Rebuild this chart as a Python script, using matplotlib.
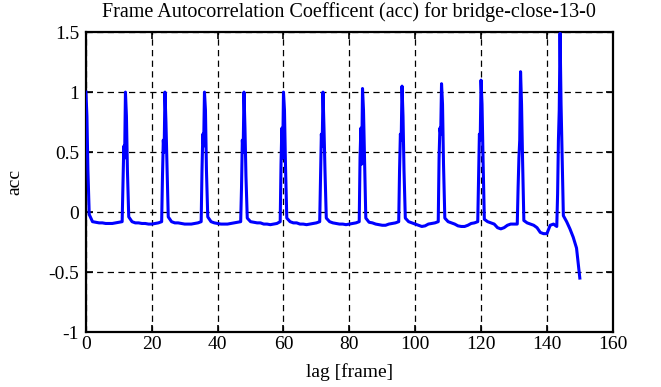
import numpy as np
from matplotlib import pyplot as plt

# acc at every whole lag 0..150
acc_frame = [
    1.0, -0.02, -0.08, -0.085, -0.09, -0.09, -0.095, -0.095, -0.095, -0.09, -0.085, -0.08,
    1.0, -0.04, -0.08, -0.09, -0.09, -0.095, -0.095, -0.1, -0.1, -0.095, -0.09, -0.08,
    1.0, -0.04, -0.08, -0.09, -0.09, -0.095, -0.1, -0.1, -0.1, -0.095, -0.09, -0.08,
    1.0, -0.04, -0.08, -0.09, -0.095, -0.1, -0.1, -0.1, -0.095, -0.09, -0.085, -0.08,
    1.0, -0.05, -0.08, -0.085, -0.09, -0.09, -0.1, -0.1, -0.105, -0.1, -0.095, -0.08,
    1.0, -0.05, -0.08, -0.09, -0.09, -0.1, -0.1, -0.105, -0.1, -0.095, -0.09, -0.08,
    1.0, -0.05, -0.08, -0.09, -0.095, -0.1, -0.1, -0.105, -0.1, -0.095, -0.09, -0.08,
    1.03, -0.05, -0.085, -0.09, -0.1, -0.105, -0.11, -0.11, -0.1, -0.095, -0.09, -0.08,
    1.05, -0.05, -0.08, -0.09, -0.1, -0.11, -0.12, -0.115, -0.1, -0.095, -0.09, -0.08,
    1.07, -0.05, -0.08, -0.09, -0.1, -0.115, -0.12, -0.12, -0.11, -0.095, -0.09, -0.08,
    1.1, -0.06, -0.08, -0.09, -0.1, -0.13, -0.14, -0.13, -0.11, -0.1, -0.1, -0.1,
    1.17, -0.07, -0.09, -0.1, -0.11, -0.13, -0.17, -0.18, -0.18, -0.11, -0.1, -0.12,
    1.49, -0.03, -0.08, -0.14, -0.21, -0.3, -0.55,
]

# extra points between frames around each peak (jagged edges)
peak_lag = [
    0.3, 0.6,
    11.25, 11.5, 11.75, 12.3, 12.6,
    23.25, 23.5, 23.75, 24.3, 24.6,
    35.25, 35.5, 35.75, 36.3, 36.6,
    47.25, 47.5, 47.75, 48.3, 48.6,
    59.25, 59.5, 59.75, 60.3, 60.6,
    71.25, 71.5, 71.75, 72.3, 72.6,
    83.25, 83.5, 83.75, 84.3, 84.6,
    95.25, 95.5, 95.75, 96.3, 96.6,
    107.25, 107.5, 107.75, 108.3, 108.6,
    119.25, 119.5, 119.75, 120.3, 120.6,
    131.25, 131.5, 131.75, 132.3, 132.6,
    143.25, 143.5, 143.75, 144.3, 144.6,
]
peak_acc = [
    0.8, 0.35,
    0.25, 0.55, 0.45, 0.8, 0.35,
    0.3, 0.6, 0.5, 0.75, 0.4,
    0.35, 0.65, 0.55, 0.85, 0.35,
    0.2, 0.6, 0.5, 0.7, 0.3,
    0.4, 0.7, 0.45, 0.85, 0.4,
    0.3, 0.65, 0.55, 0.7, 0.35,
    0.45, 0.7, 0.4, 0.85, 0.45,
    0.35, 0.65, 0.6, 0.8, 0.35,
    0.45, 0.7, 0.65, 0.9, 0.4,
    0.3, 0.65, 0.6, 0.9, 0.45,
    0.2, 0.45, 0.6, 0.9, 0.45,
    0.15, 0.6, 0.85, 0.9, 0.5,
]

xticks = [0, 20, 40, 60, 80, 100, 120, 140, 160]
yticks = [-1, -0.5, 0, 0.5, 1, 1.5]
ytick_labels = ['-1', '-0.5', '0', '0.5', '1', '1.5']

# merge whole-frame and in-between samples
lag = np.concatenate([np.arange(len(acc_frame)), peak_lag])
acc = np.concatenate([acc_frame, peak_acc])
order = np.argsort(lag)
lag = lag[order]
acc = acc[order]

plt.rcParams['font.family'] = 'Liberation Serif'

fig = plt.figure(figsize=(6.61, 3.87), dpi=100)
ax = fig.add_axes([0.130, 0.142, 0.797, 0.775])

ax.plot(lag, acc, color='#0000ff', linewidth=2.2, zorder=3)

ax.set_xlim(0, 160)
ax.set_ylim(-1, 1.5)
ax.set_xticks(xticks)
ax.set_xticklabels([str(t) for t in xticks])
ax.set_yticks(yticks)
ax.set_yticklabels(ytick_labels)
ax.grid(True, color='black', linestyle=(0, (5, 3.5)), linewidth=0.9)
ax.tick_params(direction='in', top=True, right=True, length=5, width=1.2,
               labelsize=14, pad=5)
ax.tick_params(axis='x', pad=3)
for s in ax.spines.values():
    s.set_linewidth(1.6)

ax.set_title('Frame Autocorrelation Coefficent (acc) for bridge-close-13-0',
             fontsize=14.5, pad=11)
ax.set_xlabel('lag [frame]', fontsize=14, labelpad=7)
ax.set_ylabel('acc', fontsize=14, labelpad=18)

fig.savefig('out.png', dpi=100)
